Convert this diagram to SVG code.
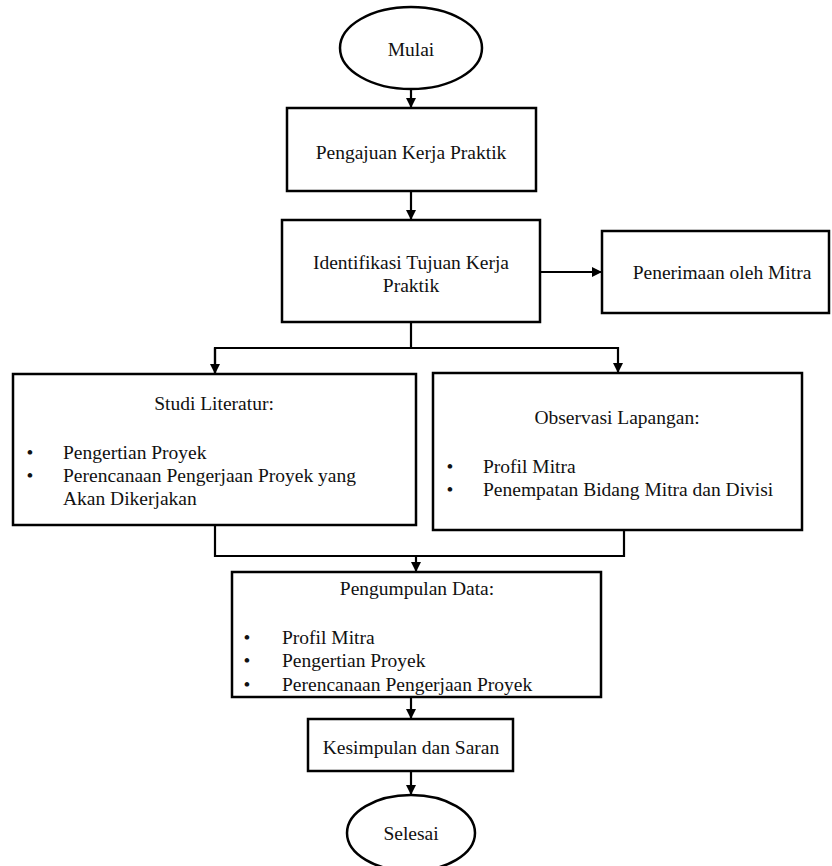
<svg xmlns="http://www.w3.org/2000/svg" width="832" height="866" viewBox="0 0 832 866">
  <style>
    .shape { fill: #ffffff; stroke: #000000; stroke-width: 2.5; }
    .wire { fill: none; stroke: #000000; stroke-width: 2.2; }
    text { font-family: "Liberation Serif", "Times New Roman", serif; font-size: 19.5px; fill: #111111; }
    .mid { text-anchor: middle; }
  </style>
  <defs>
    <marker id="arrow" viewBox="0 0 10 10" refX="10" refY="5" markerWidth="10" markerHeight="10" markerUnits="userSpaceOnUse" orient="auto">
      <path d="M0,0 L10,5 L0,10 z" fill="#000000"/>
    </marker>
  </defs>

  <rect width="832" height="866" fill="#ffffff"/>

  <!-- connectors -->
  <g id="connectors">
    <line class="wire" x1="411" y1="90" x2="411" y2="108" marker-end="url(#arrow)"/>
    <line class="wire" x1="411" y1="191" x2="411" y2="220" marker-end="url(#arrow)"/>
    <line class="wire" x1="540" y1="272" x2="602" y2="272" marker-end="url(#arrow)"/>
    <polyline class="wire" points="411,322 411,348"/>
    <polyline class="wire" points="215,374 215,348 618,348 618,373" marker-end="url(#arrow)"/>
    <line class="wire" x1="215" y1="348" x2="215" y2="374" marker-end="url(#arrow)"/>
    <polyline class="wire" points="215,524 215,556 624,556 624,530"/>
    <line class="wire" x1="416" y1="556" x2="416" y2="572" marker-end="url(#arrow)"/>
    <line class="wire" x1="411" y1="697" x2="411" y2="719" marker-end="url(#arrow)"/>
    <line class="wire" x1="411" y1="771" x2="411" y2="795" marker-end="url(#arrow)"/>
  </g>

  <g id="mulai">
    <ellipse class="shape" cx="411" cy="48" rx="71" ry="41"/>
    <text class="mid" x="411" y="56">Mulai</text>
  </g>

  <g id="pengajuan">
    <rect class="shape" x="287" y="108" width="249" height="83"/>
    <text class="mid" x="411" y="159">Pengajuan Kerja Praktik</text>
  </g>

  <g id="identifikasi">
    <rect class="shape" x="282" y="220" width="258" height="102"/>
    <text class="mid" x="411" y="269">Identifikasi Tujuan Kerja</text>
    <text class="mid" x="411" y="292">Praktik</text>
  </g>

  <g id="penerimaan">
    <rect class="shape" x="602" y="231" width="227" height="82"/>
    <text class="mid" x="722" y="279">Penerimaan oleh Mitra</text>
  </g>

  <g id="studi-literatur">
    <rect class="shape" x="13" y="374" width="403" height="151"/>
    <text class="mid" x="214" y="410">Studi Literatur:</text>
    <text class="mid" x="30" y="459">•</text>
    <text x="63" y="459">Pengertian Proyek</text>
    <text class="mid" x="30" y="482">•</text>
    <text x="63" y="482">Perencanaan Pengerjaan Proyek yang</text>
    <text x="63" y="505">Akan Dikerjakan</text>
  </g>

  <g id="observasi-lapangan">
    <rect class="shape" x="433" y="373" width="369" height="157"/>
    <text class="mid" x="617" y="424">Observasi Lapangan:</text>
    <text class="mid" x="450" y="473">•</text>
    <text x="483" y="473">Profil Mitra</text>
    <text class="mid" x="450" y="496">•</text>
    <text x="483" y="496">Penempatan Bidang Mitra dan Divisi</text>
  </g>

  <g id="pengumpulan-data">
    <rect class="shape" x="232" y="572" width="369" height="125"/>
    <text class="mid" x="417" y="595">Pengumpulan Data:</text>
    <text class="mid" x="247" y="644">•</text>
    <text x="282" y="644">Profil Mitra</text>
    <text class="mid" x="247" y="667">•</text>
    <text x="282" y="667">Pengertian Proyek</text>
    <text class="mid" x="247" y="691">•</text>
    <text x="282" y="691">Perencanaan Pengerjaan Proyek</text>
  </g>

  <g id="kesimpulan">
    <rect class="shape" x="308" y="719" width="205" height="52"/>
    <text class="mid" x="411" y="754">Kesimpulan dan Saran</text>
  </g>

  <g id="selesai">
    <ellipse class="shape" cx="411" cy="833" rx="64" ry="38"/>
    <text class="mid" x="411" y="840">Selesai</text>
  </g>
</svg>
